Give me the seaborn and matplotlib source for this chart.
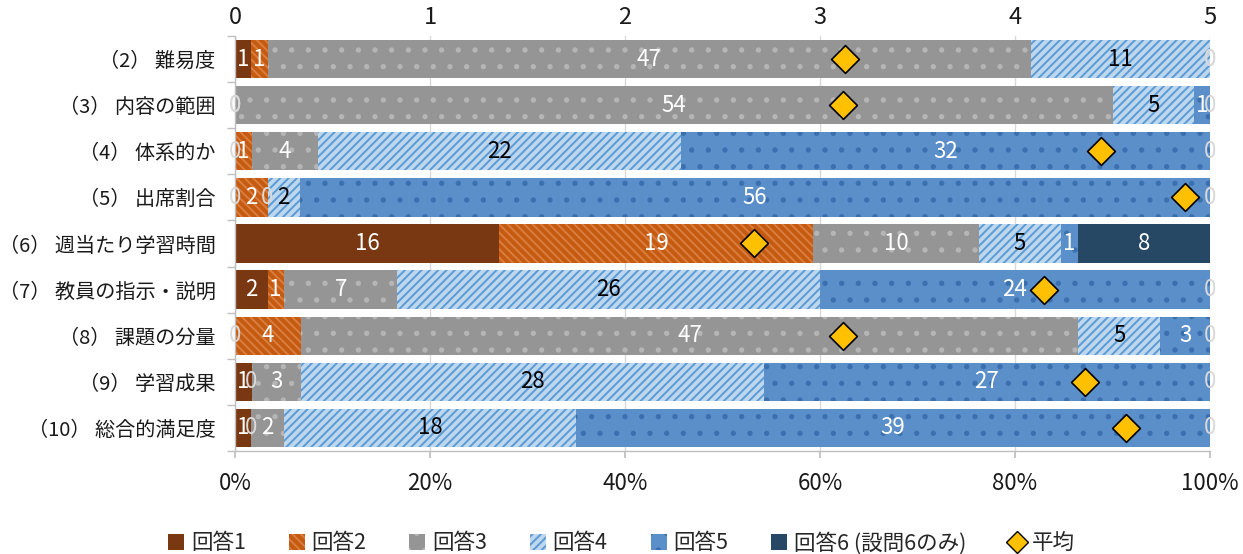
import numpy as np
import pandas as pd
import matplotlib
matplotlib.use('Agg')
import matplotlib.pyplot as plt
from matplotlib.patches import Patch
from matplotlib.lines import Line2D
from matplotlib.ticker import FixedLocator, PercentFormatter
import seaborn as sns

# data
categories = ['（2） 難易度', '（3） 内容の範囲', '（4） 体系的か', '（5） 出席割合',
              '（6） 週当たり学習時間', '（7） 教員の指示・説明', '（8） 課題の分量',
              '（9） 学習成果', '（10） 総合的満足度']
ans1 = [1, 0, 0, 0, 16, 2, 0, 1, 1]
ans2 = [1, 0, 1, 2, 19, 1, 4, 0, 0]
ans3 = [47, 54, 4, 0, 10, 7, 47, 3, 2]
ans4 = [11, 5, 22, 2, 5, 26, 5, 28, 18]
ans5 = [0, 1, 32, 56, 1, 24, 3, 27, 39]
ans6 = [0, 0, 0, 0, 8, 0, 0, 0, 0]
averages = [3.13, 3.12, 4.44, 4.87, 2.66, 4.15, 3.12, 4.36, 4.57]
series_names = ['回答1', '回答2', '回答3', '回答4', '回答5', '回答6 (設問6のみ)']
avg_name = '平均'

sns.set_theme(style='white')
plt.rcParams['font.family'] = ['Noto Sans CJK JP', 'DejaVu Sans']
plt.rcParams['hatch.linewidth'] = 1.4

# face colour, hatch colour, hatch pattern, label colour
STYLES = [
    ('#7A3812', '#7A3812', '', 'white'),
    ('#C55A11', '#DA7E40', '\\\\\\\\', 'white'),
    ('#959595', '#B5B5B5', '.', 'white'),
    ('#BDD7EE', '#5B9BD5', '////', 'black'),
    ('#5B8FC9', '#3A70B0', '.', 'white'),
    ('#264864', '#264864', '', 'white'),
]

counts = pd.DataFrame({n: v for n, v in zip(series_names, [ans1, ans2, ans3, ans4, ans5, ans6])},
                      index=categories)
pct = counts.div(counts.sum(axis=1), axis=0) * 100
cum = pct.cumsum(axis=1)
df = cum.reset_index().rename(columns={'index': 'item'})

fig = plt.figure(figsize=(12.43, 5.54), dpi=100)
ax = fig.add_axes([235 / 1243, 1 - 451 / 554, 975 / 1243, 415 / 554])

# stacked bars: draw cumulative totals from the last series backwards
for i in range(len(series_names) - 1, -1, -1):
    face, hcol, hatch, _ = STYLES[i]
    sns.barplot(data=df, x=series_names[i], y='item', orient='h', color=face,
                saturation=1, width=0.83, hatch=hatch, edgecolor=hcol,
                linewidth=0, ax=ax)

# segment labels
for i, name in enumerate(series_names):
    lab_col = STYLES[i][3]
    for j, cat in enumerate(categories):
        v = counts.loc[cat, name]
        xc = cum.loc[cat, name] - pct.loc[cat, name] / 2
        col = lab_col if v > 0 else '#D9D9D9'
        ax.text(xc, j, f'{v}', ha='center', va='center', fontsize=16, color=col, zorder=5)

ax.set_xlim(0, 100)
ax.set_ylim(len(categories) - 0.5, -0.5)
ax.set_xlabel('')
ax.set_ylabel('')
ax.xaxis.set_major_locator(FixedLocator([0, 20, 40, 60, 80, 100]))
ax.xaxis.set_major_formatter(PercentFormatter(decimals=0))
ax.grid(axis='x', color='#D9D9D9', linewidth=1)
ax.set_axisbelow(True)
for s in ['top', 'right']:
    ax.spines[s].set_visible(False)
for s in ['left', 'bottom']:
    ax.spines[s].set_color('#BFBFBF')
    ax.spines[s].set_linewidth(1)
ax.tick_params(axis='x', which='major', bottom=True, length=5, color='#BFBFBF',
               labelsize=16, labelcolor='#1a1a1a', pad=10)
ax.tick_params(axis='y', which='major', left=False, labelsize=14.5, labelcolor='#1a1a1a', pad=8)
ax.yaxis.set_minor_locator(FixedLocator(np.arange(-0.5, len(categories), 1)))
ax.tick_params(axis='y', which='minor', left=True, length=6, color='#BFBFBF')

# averages on the top axis
ax2 = ax.twiny()
ax2.set_xlim(0, 5)
ax2.set_xticks(range(6))
for s in ax2.spines.values():
    s.set_visible(False)
ax2.tick_params(axis='x', top=True, length=0, labelsize=17, labelcolor='#1a1a1a', pad=5)
sns.scatterplot(x=averages, y=list(range(len(categories))), marker='D', s=200,
                color='#FFC000', edgecolor='black', linewidth=1.2, zorder=6, ax=ax2)
ax2.set_ylim(len(categories) - 0.5, -0.5)
ax2.set_xlabel('')

handles = [Patch(facecolor=st[0], edgecolor=st[1], hatch=st[2], linewidth=0) for st in STYLES]
handles.append(Line2D([], [], marker='D', linestyle='none', markersize=11,
                      markerfacecolor='#FFC000', markeredgecolor='black', markeredgewidth=1))
fig.legend(handles, series_names + [avg_name], loc='center', bbox_to_anchor=(0.5, 1 - 543 / 554),
           ncol=7, frameon=False, fontsize=15.5, handlelength=0.75, handleheight=0.75,
           handletextpad=0.3, columnspacing=2.0)

fig.savefig('out.png', dpi=100)
